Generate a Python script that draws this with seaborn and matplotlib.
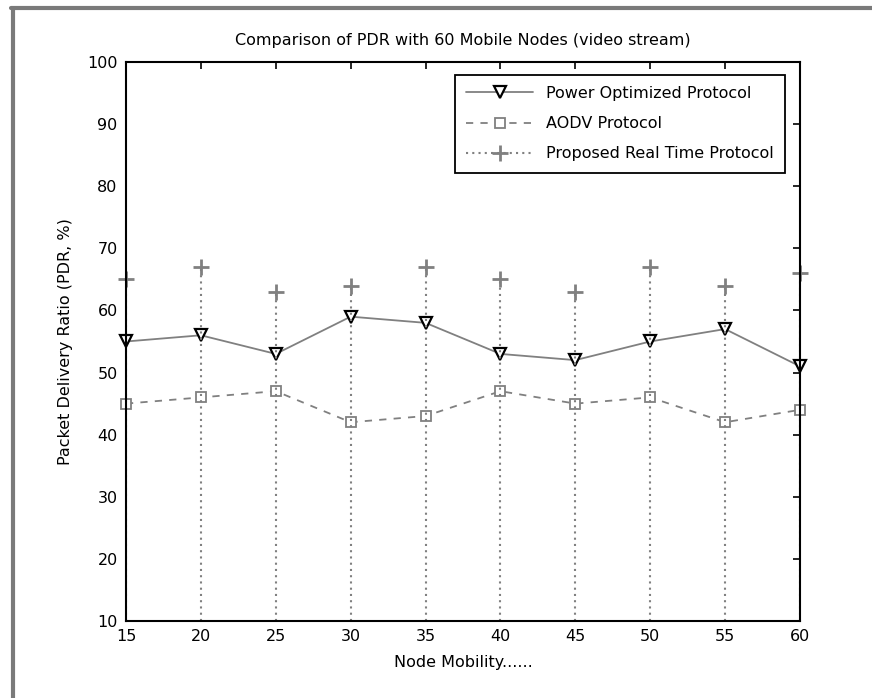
import matplotlib
matplotlib.use("Agg")
import matplotlib.pyplot as plt
import seaborn as sns
import pandas as pd
from matplotlib.lines import Line2D

# node mobility values on the x axis
mobility = [15, 20, 25, 30, 35, 40, 45, 50, 55, 60]

# PDR (%) per protocol
power_opt = [55, 56, 53, 59, 58, 53, 52, 55, 57, 51]
aodv = [45, 46, 47, 42, 43, 47, 45, 46, 42, 44]
proposed = [65, 67, 63, 64, 67, 65, 63, 67, 64, 66]

labels = ["Power Optimized Protocol", "AODV Protocol", "Proposed Real Time Protocol"]

sns.set_style("white")
plt.rcParams["font.family"] = ["DejaVu Sans"]
plt.rcParams["text.color"] = "black"
plt.rcParams["axes.labelcolor"] = "black"
fs = 11.5

df = pd.DataFrame({"mobility": mobility,
                   labels[0]: power_opt,
                   labels[1]: aodv,
                   labels[2]: proposed})

fig = plt.figure(figsize=(8.72, 6.98), dpi=100)
ax = fig.add_axes([0.1445, 0.1103, 0.7729, 0.8009])

grey = "#808080"
tri = dict(marker="v", markersize=9, markerfacecolor="white",
           markeredgecolor="black", markeredgewidth=1.6)
sq = dict(marker="s", markersize=6.5, markerfacecolor="white",
          markeredgecolor=grey, markeredgewidth=1.3)

sns.lineplot(data=df, x="mobility", y=labels[0], ax=ax, color=grey, lw=1.3,
             clip_on=False, label=labels[0], **tri)
sns.lineplot(data=df, x="mobility", y=labels[1], ax=ax, color=grey, lw=1.3,
             linestyle=(0, (4, 4)), clip_on=False, label=labels[1], **sq)

# proposed protocol drawn as dotted stems from the axis floor
ax.vlines(df["mobility"], 10, df[labels[2]], colors=grey, linestyles=(0, (1, 2)), lw=1.5)
ax.plot(df["mobility"], df[labels[2]], linestyle="none", marker="+",
        markersize=11, markeredgewidth=2, color=grey, clip_on=False)

ax.set_xlim(15, 60)
ax.set_ylim(10, 100)
ax.set_xticks(mobility)
ax.set_yticks(range(10, 101, 10))
ax.tick_params(direction="in", top=True, right=True, length=5, width=1.2,
               labelsize=fs, colors="black", pad=6)
for s in ax.spines.values():
    s.set_visible(True)
    s.set_color("black")
    s.set_linewidth(1.5)

ax.set_title("Comparison of PDR with 60 Mobile Nodes (video stream)", fontsize=fs,
             color="black", pad=12)
ax.set_xlabel("Node Mobility......", fontsize=fs, labelpad=8)
ax.set_ylabel("Packet Delivery Ratio (PDR, %)", fontsize=fs, labelpad=10)

handles = [
    Line2D([], [], color=grey, lw=1.3, **tri),
    Line2D([], [], color=grey, lw=1.3, linestyle=(0, (4, 4)), **sq),
    Line2D([], [], color=grey, lw=1.5, linestyle=(0, (1, 2)), marker="+",
           markersize=11, markeredgewidth=2),
]
leg = ax.legend(handles, labels, loc="upper right", bbox_to_anchor=(0.978, 0.977),
                borderaxespad=0, fancybox=False, edgecolor="black", framealpha=1,
                fontsize=fs, handlelength=4.2, borderpad=0.7, labelspacing=0.95)
leg.get_frame().set_linewidth(1.3)

# grey window frame on the left and top edges
fig.add_artist(Line2D([0.015, 0.015], [0.0, 0.988], transform=fig.transFigure,
                      color="#7a7a7a", lw=3))
fig.add_artist(Line2D([0.013, 1.0], [0.988, 0.988], transform=fig.transFigure,
                      color="#7a7a7a", lw=3))

fig.savefig("out.png", dpi=100)
